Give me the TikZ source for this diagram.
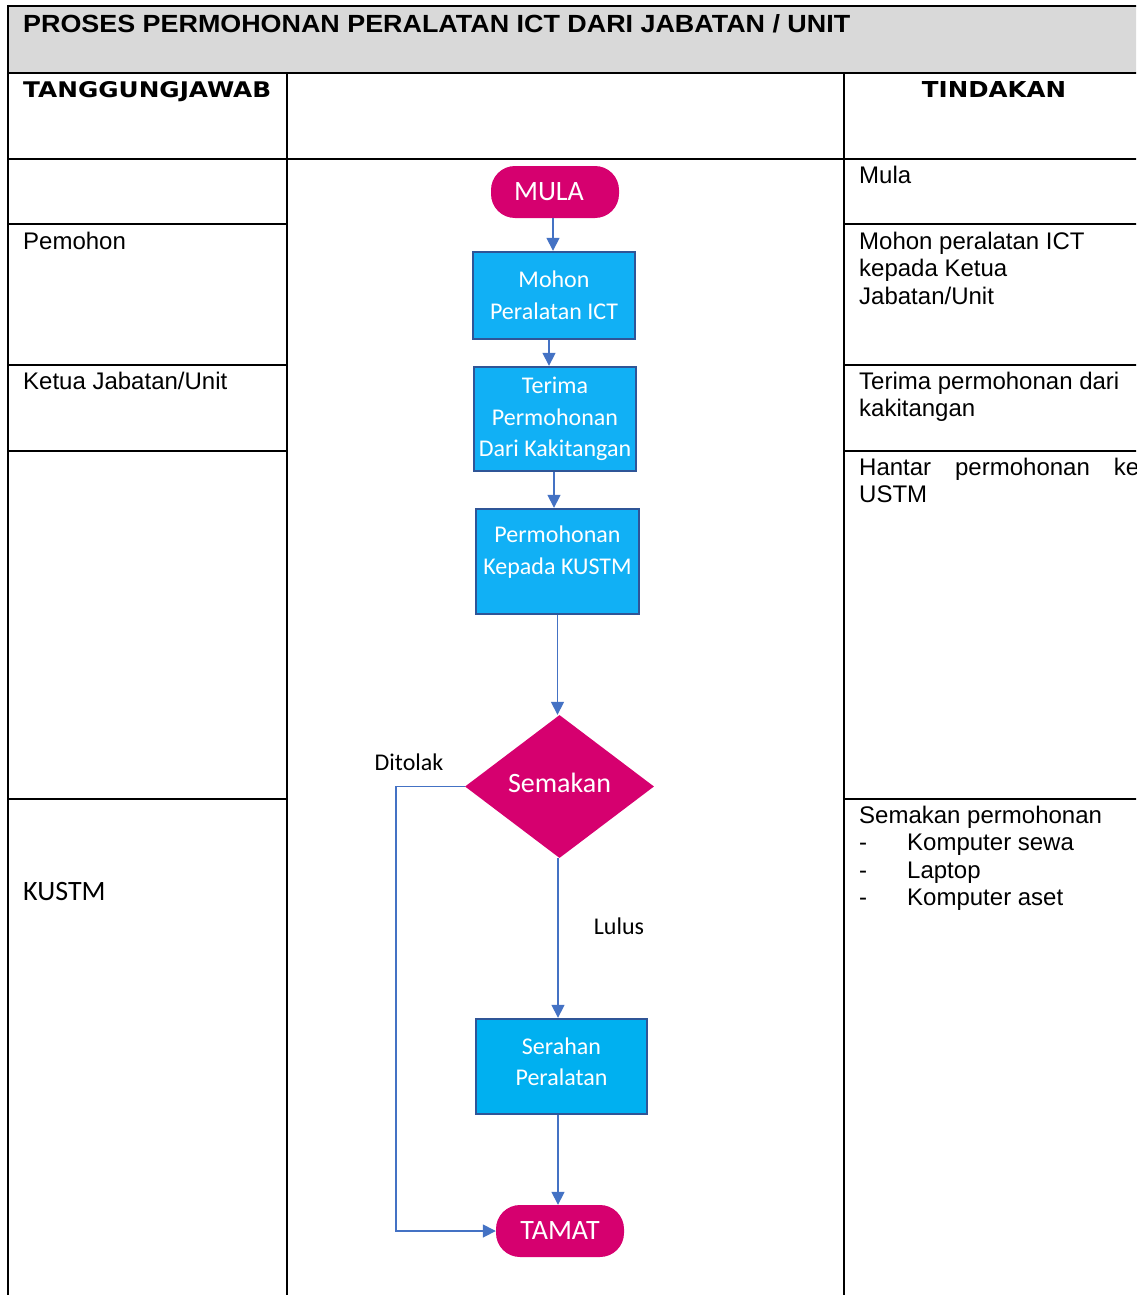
\documentclass[tikz,border=0pt]{standalone}
\usepackage{fontspec}
\usepackage{graphicx}
\setmainfont{Liberation Sans}
\newfontfamily\calib{Carlito}
\newfontfamily\vfont{DejaVu Sans}
\usetikzlibrary{shapes.geometric,arrows.meta}
\definecolor{pinkc}{HTML}{D6006F}
\definecolor{boxc}{HTML}{11B0F5}
\definecolor{boxd}{HTML}{00B0F0}
\definecolor{bordc}{HTML}{2F5597}
\definecolor{arrc}{HTML}{4472C4}
\definecolor{hdrc}{HTML}{D9D9D9}
\begin{document}
\begin{tikzpicture}[x=1pt,y=-1pt,
  tline/.style={line width=2pt, black},
  body/.style={anchor=base west, inner sep=0pt, font=\fontsize{24pt}{27.5pt}\selectfont},
  flowtxt/.style={font=\calib\fontsize{24pt}{31.5pt}\selectfont, text=white, align=center},
  term/.style={draw=none, fill=pinkc, rounded corners=24pt, minimum width=128pt, minimum height=52pt, inner sep=0pt, text=white, font=\calib\fontsize{28pt}{30pt}\selectfont},
  procbox/.style={flowtxt, draw=bordc, line width=2.4pt, fill=boxc, inner sep=0pt},
  arr/.style={arrc, line width=1.6pt, -{Triangle[width=13pt,length=13pt]}},
  lab/.style={inner sep=0pt, font=\calib\fontsize{24pt}{26pt}\selectfont}
]
\useasboundingbox (0,0) rectangle (1136,1295);
\clip (0,0) rectangle (1136,1295);

% table
\fill[hdrc] (8,6) rectangle (1140,73);
\draw[tline] (8,6) -- (1140,6);
\draw[tline] (8,5) -- (8,1300);
\draw[tline] (8,73) -- (1140,73);
\draw[tline] (8,159) -- (1140,159);
\draw[tline] (287,73) -- (287,1300);
\draw[tline] (844,73) -- (844,1300);
\foreach \yy in {224,365,451,799}{
  \draw[tline] (8,\yy) -- (287,\yy);
  \draw[tline] (844,\yy) -- (1140,\yy);
}

% headings
\node[anchor=base west, inner sep=0pt] (title) at (23,33)
  {\resizebox{827pt}{18pt}{\bfseries PROSES PERMOHONAN PERALATAN ICT DARI JABATAN / UNIT}};
\node[anchor=base west, inner sep=0pt] (htang) at (23,98)
  {\resizebox{248pt}{16pt}{\vfont\bfseries TANGGUNGJAWAB}};
\node[anchor=base, inner sep=0pt] (htind) at (994,98)
  {\resizebox{144pt}{16pt}{\vfont\bfseries TINDAKAN}};

% left column
\node[body] (lpemohon) at (23,249) {Pemohon};
\node[body] (lketua) at (23,389) {Ketua Jabatan/Unit};
\node[anchor=base west, inner sep=0pt, font=\calib\fontsize{28pt}{30pt}\selectfont] (lkustm) at (23,900) {KUSTM};

% right column
\node[body] (rmula) at (859,183) {Mula};
\node[body] (rmohon1) at (859,249) {Mohon peralatan ICT};
\node[body] (rmohon2) at (859,276.5) {kepada Ketua};
\node[body] (rmohon3) at (859,304) {Jabatan/Unit};
\node[body] (rterima1) at (859,389) {Terima permohonan dari};
\node[body] (rterima2) at (859,416.5) {kakitangan};
\node[body] (rhantar1) at (859,475) {\hbox to 280pt{Hantar\hfill permohonan\hfill ke}};
\node[body] (rhantar2) at (859,502) {USTM};
\node[body] (rsem0) at (859,823) {Semakan permohonan};
\node[body] (rsemd1) at (859,850.5) {-};
\node[body] (rsem1) at (907,850.5) {Komputer sewa};
\node[body] (rsemd2) at (859,878) {-};
\node[body] (rsem2) at (907,878) {Laptop};
\node[body] (rsemd3) at (859,905.5) {-};
\node[body] (rsem3) at (907,905.5) {Komputer aset};

% flowchart
\node[term] (mula) at (555,192) {MULA\kern12pt};
\node[procbox, minimum width=162pt, minimum height=87pt] (mohon) at (554,295.5) {Mohon\\Peralatan ICT};
\node[procbox, minimum width=162pt, minimum height=104pt] (terima) at (555,419) {Terima\\Permohonan\\Dari Kakitangan};
\node[procbox, minimum width=163pt, minimum height=105pt] (perm) at (557.5,561.5) {Permohonan\\Kepada KUSTM\rule[-23pt]{0pt}{0pt}};
\node[diamond, fill=pinkc, minimum width=189pt, minimum height=143pt, inner sep=0pt, text=white, font=\calib\fontsize{28pt}{30pt}\selectfont] (semakan) at (559.5,786.5) {Semakan\rule[-8pt]{0pt}{0pt}};
\node[procbox, fill=boxd, minimum width=171pt, minimum height=95pt] (serahan) at (561.5,1066.5) {Serahan\\Peralatan\rule[-10pt]{0pt}{0pt}};
\node[term] (tamat) at (560,1231) {TAMAT};

\node[lab] (ditolak) at (409,762) {Ditolak};
\node[lab] (lulus) at (619,926) {Lulus};

\draw[arr] ([xshift=-2pt]mula.south) -- ([xshift=-2pt]mula.south |- mohon.north);
\draw[arr] ([xshift=-5pt]mohon.south) -- ([xshift=-5pt]mohon.south |- terima.north);
\draw[arr] ([xshift=-1pt]terima.south) -- ([xshift=-1pt]terima.south |- perm.north);
\draw[arr] (perm.south) -- (perm.south |- semakan.north);
\draw[arr] ([xshift=-1.5pt]semakan.south) -- ([xshift=-1.5pt]semakan.south |- serahan.north);
\draw[arr] ([xshift=-3.5pt]serahan.south) -- ([xshift=-3.5pt]serahan.south |- tamat.north);
\draw[arr] (semakan.west) -- ++(-69,0) |- (tamat.west);
\end{tikzpicture}
\end{document}
